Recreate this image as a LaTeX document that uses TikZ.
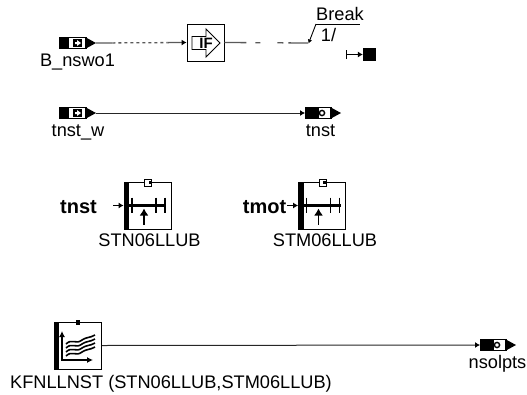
\documentclass[tikz,border=0pt]{standalone}
\usepackage{fontspec}
\setmainfont{Liberation Sans}
\usetikzlibrary{arrows.meta,positioning,calc}
\tikzset{
  wire/.style={line width=1pt,black!85,-{Latex[length=5pt,width=6pt,black]}},
  plain/.style={line width=1.3pt,black!65},
  block/.style={draw,line width=0.8pt,minimum width=47pt,minimum height=47pt,inner sep=0pt},
  lbl/.style={inner sep=0pt,anchor=base,font=\fontsize{18.2}{19}\selectfont},
  boldlbl/.style={inner sep=0pt,anchor=base,font=\fontsize{20}{22}\selectfont\bfseries}
}
% in-port, arrow pointing right inside the white window
\newcommand{\inport}[2]{
  \fill (#1-19,#2-6) rectangle (#1-10,#2+6);
  \draw[line width=0.7pt,fill=white] (#1-10,#2-5.6) rectangle (#1+8,#2+5.6);
  \fill (#1+7,#2-6) -- (#1+18,#2) -- (#1+7,#2+6) -- cycle;
  \fill (#1-5,#2-4) rectangle (#1+4,#2+4);
  \fill[white] (#1-3,#2-1) -- (#1-1,#2-1) -- (#1-1,#2-3) -- (#1+3,#2) -- (#1-1,#2+3) -- (#1-1,#2+1) -- (#1-3,#2+1) -- cycle;
}
% out-port, ring inside the white window
\newcommand{\outport}[2]{
  \fill (#1-18,#2-6) rectangle (#1-5,#2+6);
  \draw[line width=0.7pt,fill=white] (#1-5,#2-5.6) rectangle (#1+8,#2+5.6);
  \fill (#1+7,#2-6) -- (#1+18,#2) -- (#1+7,#2+6) -- cycle;
  \draw[line width=1.4pt] (#1-1,#2) circle (2.6);
}
% axis curve block, black bar on the left and a small tab on top
\newcommand{\lookup}[2]{
  \fill (#1-24,#2-23.5) rectangle (#1-19,#2+23.5);
  \draw[line width=0.8pt,fill=white] (#1-3.5,#2-26.5) rectangle (#1+3.5,#2-19.5);
  \fill (#1+0.5,#2-25) rectangle (#1+3,#2-21.5);
  \draw[line width=2.6pt] (#1-19,#2) -- (#1+18,#2);
  \foreach \t in {-16,8,17}{
    \draw[line width=1.6pt] (#1+\t,#2-8) -- (#1+\t,#2+7);
  }
  \draw[line width=1.6pt,-{Latex[length=7pt,width=9pt]}] (#1-4,#2+19) -- (#1-4,#2+3);
}
\begin{document}
\begin{tikzpicture}[x=1pt,y=-1pt]
\useasboundingbox (0,0) rectangle (527,394);
% first row
\inport{78}{43}
\coordinate (nswoout) at (96,43);
\node[lbl] (nswolbl) at (77.5,66) {B\_nswo1};
\node[block,minimum width=37pt,minimum height=37pt] (ifblk) at (205.5,42.5) {};
\draw[line width=0.9pt,fill=white] (192,36.5) -- (206,36.5) -- (206,29) -- (220,43)
  -- (206,57) -- (206,49.5) -- (192,49.5) -- cycle;
\node[inner sep=0pt,font=\fontsize{15}{16}\selectfont\bfseries] (iflbl) at (206,43) {IF};
\path (nswoout) -- (ifblk.west) coordinate[pos=0.18] (nswoa) coordinate[pos=0.79] (nswob);
\draw[plain] (nswoout) -- (nswoa);
\draw[plain,dash pattern=on 3pt off 3pt] (nswoa) -- (nswob);
\draw[plain,-{Latex[length=5pt,width=6pt,black]}] (nswob) -- (ifblk.west);
% break
\coordinate (brk) at (308,43);
\draw[plain,dash pattern=on 22pt off 9pt on 5pt off 17pt on 6pt off 5pt on 30pt] (ifblk.east) -- (brk);
\draw[line width=0.9pt,-{Latex[length=4pt,width=4.5pt]}] (316,24) -- (308.5,43.5);
\draw[line width=0.9pt] (316,24) -- (360,24);
\node[lbl] (brklbl) at (340,20) {Break};
\node[lbl] (brkval) at (328.5,41) {1/};
\coordinate (stopa) at (345.5,54.5);
\node[fill,minimum size=13pt,inner sep=0pt] (stop) at (369.5,54.5) {};
\draw[line width=0.8pt,{Bar[width=9pt]}-{Latex[length=5pt,width=6pt]}] (stopa) -- (stop.west);
% second row
\inport{78}{113}
\node[lbl] (tnstwlbl) at (78,136) {tnst\_w};
\coordinate (tnstwout) at (96,113);
\outport{323}{113}
\coordinate (tnstin) at (305,113);
\node[lbl] (tnstlbl) at (320.5,136) {tnst};
\draw[wire] (tnstwout) -- (tnstin);
% axis blocks
\node[block] (stnblk) at (147.5,205.5) {};
\lookup{148}{205.5}
\node[boldlbl] (tnstin2) at (78.5,213) {tnst};
\coordinate (stnin) at (113,205.5);
\draw[wire,black] (stnin) -- (stnblk.west);
\node[lbl] (stnlbl) at (149.5,246) {STN06LLUB};
\node[block] (stmblk) at (322,205.5) {};
\lookup{322.5}{205.5}
\node[boldlbl] (tmotin) at (264.5,213) {tmot};
\coordinate (stmin) at (287,205.5);
\draw[wire,black] (stmin) -- (stmblk.west);
\node[lbl] (stmlbl) at (325,246) {STM06LLUB};
% map block
\node[block] (mapblk) at (78,345.5) {};
\fill (54,322) rectangle (59,369);
\fill (76,319.5) rectangle (80,325);
\draw[line width=1.2pt,{Latex[length=6pt,width=6pt]}-{Latex[length=6pt,width=6pt]}] (62,331) -- (62,360) -- (93,360);
\foreach \h in {0,4,8,12}{
  \draw[line width=1.6pt] (66,{344+\h}) .. controls (72,{338+\h}) and (76,{345+\h}) .. (82,{340+\h})
    .. controls (86,{337+\h}) and (90,{338+\h}) .. (95,{335+\h});
}
\node[lbl] (maplbl) at (171,388) {KFNLLNST (STN06LLUB,STM06LLUB)};
\outport{498}{345}
\coordinate (nsolin) at (480,345);
\node[lbl] (nsollbl) at (497.5,368) {nsolpts};
\draw[wire] (mapblk.east) -- (nsolin);
\end{tikzpicture}
\end{document}
